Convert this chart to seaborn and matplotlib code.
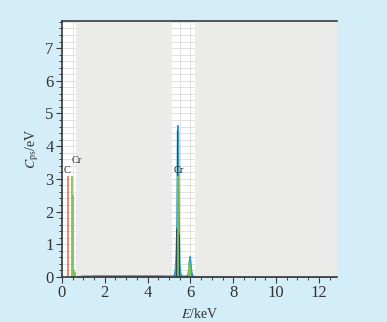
"""EDS spectrum of a Cr coating (C and Cr lines)."""

import matplotlib
matplotlib.use("Agg")
import matplotlib.pyplot as plt
from matplotlib.ticker import MultipleLocator
import seaborn as sns

# Cr K lines (blue envelope)
cr_k_energy = [5.20, 5.26, 5.30, 5.34, 5.37, 5.40, 5.43, 5.46, 5.49, 5.53, 5.60,
               5.80, 5.86, 5.90, 5.94, 5.97, 6.00, 6.04, 6.08, 6.14]
cr_k_counts = [0.04, 0.20, 0.60, 1.60, 4.50, 4.65, 4.40, 1.40, 0.40, 0.12, 0.04,
               0.04, 0.10, 0.30, 0.60, 0.65, 0.50, 0.20, 0.08, 0.03]

# dark overlay lines inside the Cr K alpha peak
cr_dark_energy = [5.32, 5.35, 5.38, 5.41, 5.45, 5.48]
cr_dark_counts = [0.40, 1.50, 4.50, 3.00, 1.30, 0.40]

# green (Cr) marker lines
cr_green_energy = [0.49, 0.53, 0.57, 0.60, 5.42, 5.94, 5.97]
cr_green_counts = [3.10, 2.50, 0.20, 0.15, 3.10, 0.45, 0.35]

# orange (C) line
c_energy = [0.28]
c_counts = [3.10]

# small blue blip at Cr L
cr_l_energy = [0.40, 0.44, 0.48, 0.52, 0.56]
cr_l_counts = [0.02, 0.10, 0.16, 0.10, 0.02]

# grey background (bremsstrahlung) counts
bg_energy = [0.70, 1.00, 1.30, 1.60, 2.00, 2.40, 2.80, 3.20, 3.60, 4.00,
             4.40, 4.80, 5.10, 6.25, 6.80, 7.40, 8.00, 9.00, 10.0, 11.0, 12.0, 12.8]
bg_counts = [0.03, 0.05, 0.05, 0.06, 0.06, 0.06, 0.06, 0.06, 0.06, 0.06,
             0.06, 0.05, 0.05, 0.03, 0.02, 0.02, 0.02, 0.01, 0.01, 0.01, 0.01, 0.01]

# white (analysis) windows, everything else shaded grey
window_lo = [0.0, 5.15]
window_hi = [0.65, 6.22]
x_max, y_max = 12.85, 7.83

peak_labels = ["C", "Cr", "Cr"]
label_x = [0.10, 0.45, 5.22]
label_y = [3.18, 3.48, 3.17]

BLUE = "#2f9cc6"
GREEN = "#7cc45a"
ORANGE = "#f07c5c"
GREY_BG = "#ebebea"
PAGE = "#d4eef9"


def main() -> None:
    sns.set_theme(style="white")
    plt.rcParams["font.family"] = ["Liberation Serif", "DejaVu Serif"]
    plt.rcParams["mathtext.fontset"] = "stix"

    fig = plt.figure(figsize=(3.87, 3.22), dpi=100, facecolor=PAGE)
    ax = fig.add_axes([0.160, 0.140, 0.711, 0.795])
    ax.set_facecolor("white")

    ax.set_xlim(0, x_max)
    ax.set_ylim(0, y_max)

    # grid only shows in the white windows
    ax.xaxis.set_minor_locator(MultipleLocator(0.5))
    ax.yaxis.set_minor_locator(MultipleLocator(0.2))
    ax.xaxis.set_major_locator(MultipleLocator(2))
    ax.yaxis.set_major_locator(MultipleLocator(1))
    ax.set_axisbelow(True)
    ax.grid(which="both", color="#dcdcdc", lw=0.6)

    shade_lo = window_hi
    shade_hi = window_lo[1:] + [x_max]
    for lo, hi in zip(shade_lo, shade_hi):
        ax.axvspan(lo, hi, color=GREY_BG, lw=0, zorder=1)

    ax.fill_between(bg_energy, bg_counts, color="#8a8a8a", lw=0.6, zorder=2)
    ax.fill_between(cr_k_energy, cr_k_counts, color=BLUE, lw=0.8,
                    edgecolor=BLUE, zorder=2)
    ax.fill_between(cr_l_energy, cr_l_counts, color=BLUE, lw=0.5, zorder=2)
    ax.vlines(cr_dark_energy, 0, cr_dark_counts, color="#2b4a5a", lw=0.7, zorder=3)
    ax.vlines(cr_green_energy, 0, cr_green_counts, color=GREEN, lw=1.3, zorder=4)
    ax.vlines(c_energy, 0, c_counts, color=ORANGE, lw=1.3, zorder=4)

    for txt, x, y in zip(peak_labels, label_x, label_y):
        ax.text(x, y, txt, fontsize=7.5, color="#222222", zorder=5)

    for side in ["left", "bottom", "top"]:
        ax.spines[side].set_color("#3a3a3a")
        ax.spines[side].set_linewidth(1.2)
        ax.spines[side].set_zorder(6)
    ax.spines["right"].set_visible(False)
    ax.tick_params(which="major", direction="out", length=4, width=0.8,
                   color="#3a3a3a", labelsize=12, labelcolor="#333333",
                   bottom=True, left=True, pad=2)
    ax.tick_params(which="minor", direction="out", length=2.5, width=0.7,
                   color="#3a3a3a", bottom=True, left=True)

    ax.set_xlabel("$E$/keV", fontsize=10, color="#333333", labelpad=4)
    ax.set_ylabel(r"$C_{\mathrm{ps}}$/eV", fontsize=10, color="#333333", labelpad=3)

    fig.savefig("out.png", dpi=100, facecolor=PAGE)


if __name__ == "__main__":
    main()
